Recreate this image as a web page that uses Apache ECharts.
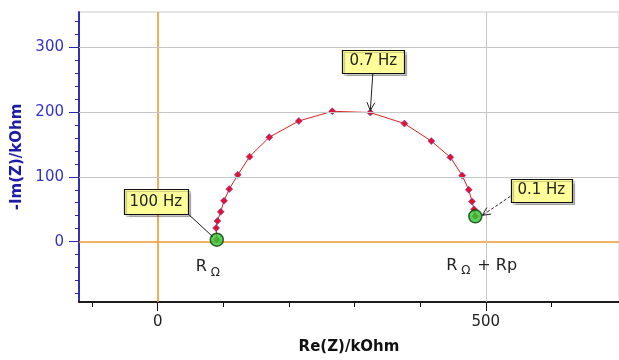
<!DOCTYPE html>
<html>
<head>
<meta charset="utf-8">
<script src="https://cdn.jsdelivr.net/npm/echarts@6/dist/echarts.min.js"></script>
<style>
html, body { margin: 0; padding: 0; background: #fff; }
#chart { width: 619px; height: 360px; }
</style>
</head>
<body>
<div id="chart"></div>
<script>
"use strict";
// Nyquist plot: Re(Z) / -Im(Z), kOhm
var reZ = [90, 89, 91, 96, 101, 109, 122, 140, 170, 215, 266, 324, 376, 417, 446, 464, 474, 479, 482, 484];
var imZ = [3, 21, 32, 46, 63, 81, 103, 131, 161, 186, 201, 199, 182, 155, 130, 102, 80, 62, 50, 39];
var endIdx = [0, 19];                       // green end points
var freqLabels = ['100 Hz', '0.7 Hz', '0.1 Hz'];
var freqIdx = [0, 11, 19];
var xMajorTicks = [0, 500];
var xMinorTicks = [-100, 0, 100, 200, 300, 400, 500, 600];
var yMajorTicks = [0, 100, 200, 300];
var yMinorTicks = [-80, -60, -40, -20, 0, 20, 40, 60, 80, 100, 120, 140, 160, 180, 200, 220, 240, 260, 280, 300, 320, 340];
var gridX = [500];
var gridY = [100, 200, 300];
var zeroLines = [0];

var FONT = 'DejaVu Sans';
var X_MIN = -120, X_MAX = 703, Y_MIN = -93, Y_MAX = 354;

var myChart = echarts.init(document.getElementById('chart'));

function xAxisOf(ticks, len, labels) {
    return {
        type: 'value', min: X_MIN, max: X_MAX, position: 'bottom',
        name: labels ? 'Re(Z)/kOhm' : '',
        nameLocation: 'middle', nameGap: 38,
        nameTextStyle: { color: '#111', fontFamily: FONT, fontWeight: 'bold', fontSize: 15 },
        axisLine: { show: true, onZero: false, lineStyle: { color: '#111', width: 1.5 } },
        axisTick: { show: true, length: len, customValues: ticks, lineStyle: { color: '#111' } },
        axisLabel: { show: labels, customValues: labels ? ticks : [], margin: 13, color: '#222', fontFamily: FONT, fontSize: 15 },
        splitLine: { show: false }
    };
}
function yAxisOf(ticks, len, labels) {
    return {
        type: 'value', min: Y_MIN, max: Y_MAX, position: 'left',
        name: labels ? '-Im(Z)/kOhm' : '',
        nameLocation: 'middle', nameGap: 54,
        nameTextStyle: { color: '#1c1ca8', fontFamily: FONT, fontWeight: 'bold', fontSize: 15 },
        axisLine: { show: true, onZero: false, lineStyle: { color: '#2626b0', width: 1.5 } },
        axisTick: { show: true, length: len, customValues: ticks, lineStyle: { color: '#2626b0' } },
        axisLabel: { show: labels, customValues: labels ? ticks : [], margin: 15, color: '#3434c4', fontFamily: FONT, fontSize: 15 },
        splitLine: { show: false }
    };
}

var lineData = reZ.map(function (x, i) { return [x, imZ[i]]; });
var endData = endIdx.map(function (i) { return [reZ[i], imZ[i]]; });

var grayLines = gridX.map(function (v) { return { xAxis: v }; })
    .concat(gridY.map(function (v) { return { yAxis: v }; }));
var orangeLines = zeroLines.map(function (v) { return { xAxis: v }; })
    .concat(zeroLines.map(function (v) { return { yAxis: v }; }));

var option = {
    animation: false,
    grid: { left: 79, top: 12, right: -1, bottom: 56, show: true, borderColor: '#cacaca', borderWidth: 1, backgroundColor: '#fff' },
    xAxis: [xAxisOf(xMajorTicks, 9, true), xAxisOf(xMinorTicks, 5, false)],
    yAxis: [yAxisOf(yMajorTicks, 10, true), yAxisOf(yMinorTicks, 4, false)],
    series: [
        {
            type: 'line', data: lineData, xAxisIndex: 0, yAxisIndex: 0,
            symbol: 'diamond', symbolSize: 7, showAllSymbol: true,
            itemStyle: { color: '#e8102a', borderColor: '#5050d0', borderWidth: 0.6 },
            lineStyle: { color: '#e02020', width: 1 },
            markLine: {
                silent: true, symbol: 'none', label: { show: false },
                emphasis: { disabled: true },
                lineStyle: { color: '#c6c6c6', type: 'solid', width: 1, opacity: 1 },
                data: grayLines
            },
            z: 3
        },
        {
            type: 'scatter', data: endData, xAxisIndex: 0, yAxisIndex: 0,
            symbol: 'circle', symbolSize: 13,
            itemStyle: { color: '#2fcc2f', borderColor: '#0d3a0d', borderWidth: 1.5 },
            markLine: {
                silent: true, symbol: 'none', label: { show: false },
                emphasis: { disabled: true },
                lineStyle: { color: '#f09a30', type: 'solid', width: 1.6, opacity: 1 },
                data: orangeLines,
                z: 2
            },
            z: 4
        }
    ]
};
myChart.setOption(option);

// callouts and R labels, placed around the data points
function drawNotes() {
    var g = [];
    function pt(i) { return myChart.convertToPixel({ seriesIndex: 0 }, [reZ[i], imZ[i]]); }
    // box offset (centre) from point, line start and end offsets
    var boxes = [
        { dx: -61, dy: -38, w: 64, h: 25, from: [-30, -27], to: [-4, -3], arrow: false, dash: false },
        { dx: 3, dy: -51, w: 62, h: 23, from: [2.5, -39], to: [0, -2], arrow: true, dash: false },
        { dx: 66, dy: -26, w: 61, h: 23, from: [35, -20], to: [7, -1], arrow: true, dash: true }
    ];
    freqLabels.forEach(function (txt, k) {
        var p = pt(freqIdx[k]), b = boxes[k];
        var x1 = p[0] + b.from[0], y1 = p[1] + b.from[1];
        var x2 = p[0] + b.to[0], y2 = p[1] + b.to[1];
        g.push({
            type: 'line', z: 10,
            shape: { x1: x1, y1: y1, x2: x2, y2: y2 },
            style: { stroke: '#222', lineWidth: 1, lineDash: b.dash ? [3, 2] : null }
        });
        if (b.arrow) {
            var ang = Math.atan2(y2 - y1, x2 - x1), L = 9, s = 0.45;
            g.push({
                type: 'polyline', z: 10,
                shape: { points: [
                    [x2 - L * Math.cos(ang - s), y2 - L * Math.sin(ang - s)],
                    [x2, y2],
                    [x2 - L * Math.cos(ang + s), y2 - L * Math.sin(ang + s)]
                ] },
                style: { stroke: '#222', lineWidth: 1, fill: null }
            });
        }
        var cx = p[0] + b.dx, cy = p[1] + b.dy;
        g.push({
            type: 'rect', z: 11,
            shape: { x: Math.round(cx - b.w / 2) + 0.5, y: Math.round(cy - b.h / 2) + 0.5, width: b.w, height: b.h },
            style: { fill: '#ffff9a', stroke: '#111', lineWidth: 1.2, shadowColor: 'rgba(0,0,0,0.22)', shadowOffsetX: 2, shadowOffsetY: 2, shadowBlur: 1 }
        });
        g.push({
            type: 'text', z: 12, x: cx, y: cy,
            style: { text: txt, fill: '#222', font: '15px "' + FONT + '"', align: 'center', verticalAlign: 'middle' }
        });
    });
    // R labels under the two end points
    var a = pt(endIdx[0]), c = pt(endIdx[1]);
    var textStyle = function (t, size, x, y) {
        return { type: 'text', z: 12, x: x, y: y,
            style: { text: t, fill: '#222', font: size + 'px "' + FONT + '"', align: 'left', verticalAlign: 'top' } };
    };
    g.push(textStyle('R', 16, a[0] - 21, a[1] + 19));
    g.push(textStyle('Ω', 12, a[0] - 6, a[1] + 27));
    g.push(textStyle('R', 16, c[0] - 29, c[1] + 41));
    g.push(textStyle('Ω', 12, c[0] - 14, c[1] + 49));
    g.push(textStyle('+ Rp', 16, c[0] + 2, c[1] + 41));
    myChart.setOption({ graphic: g });
}
drawNotes();

window.onresize = function () {
    myChart.resize();
    drawNotes();
};
</script>
</body>
</html>
